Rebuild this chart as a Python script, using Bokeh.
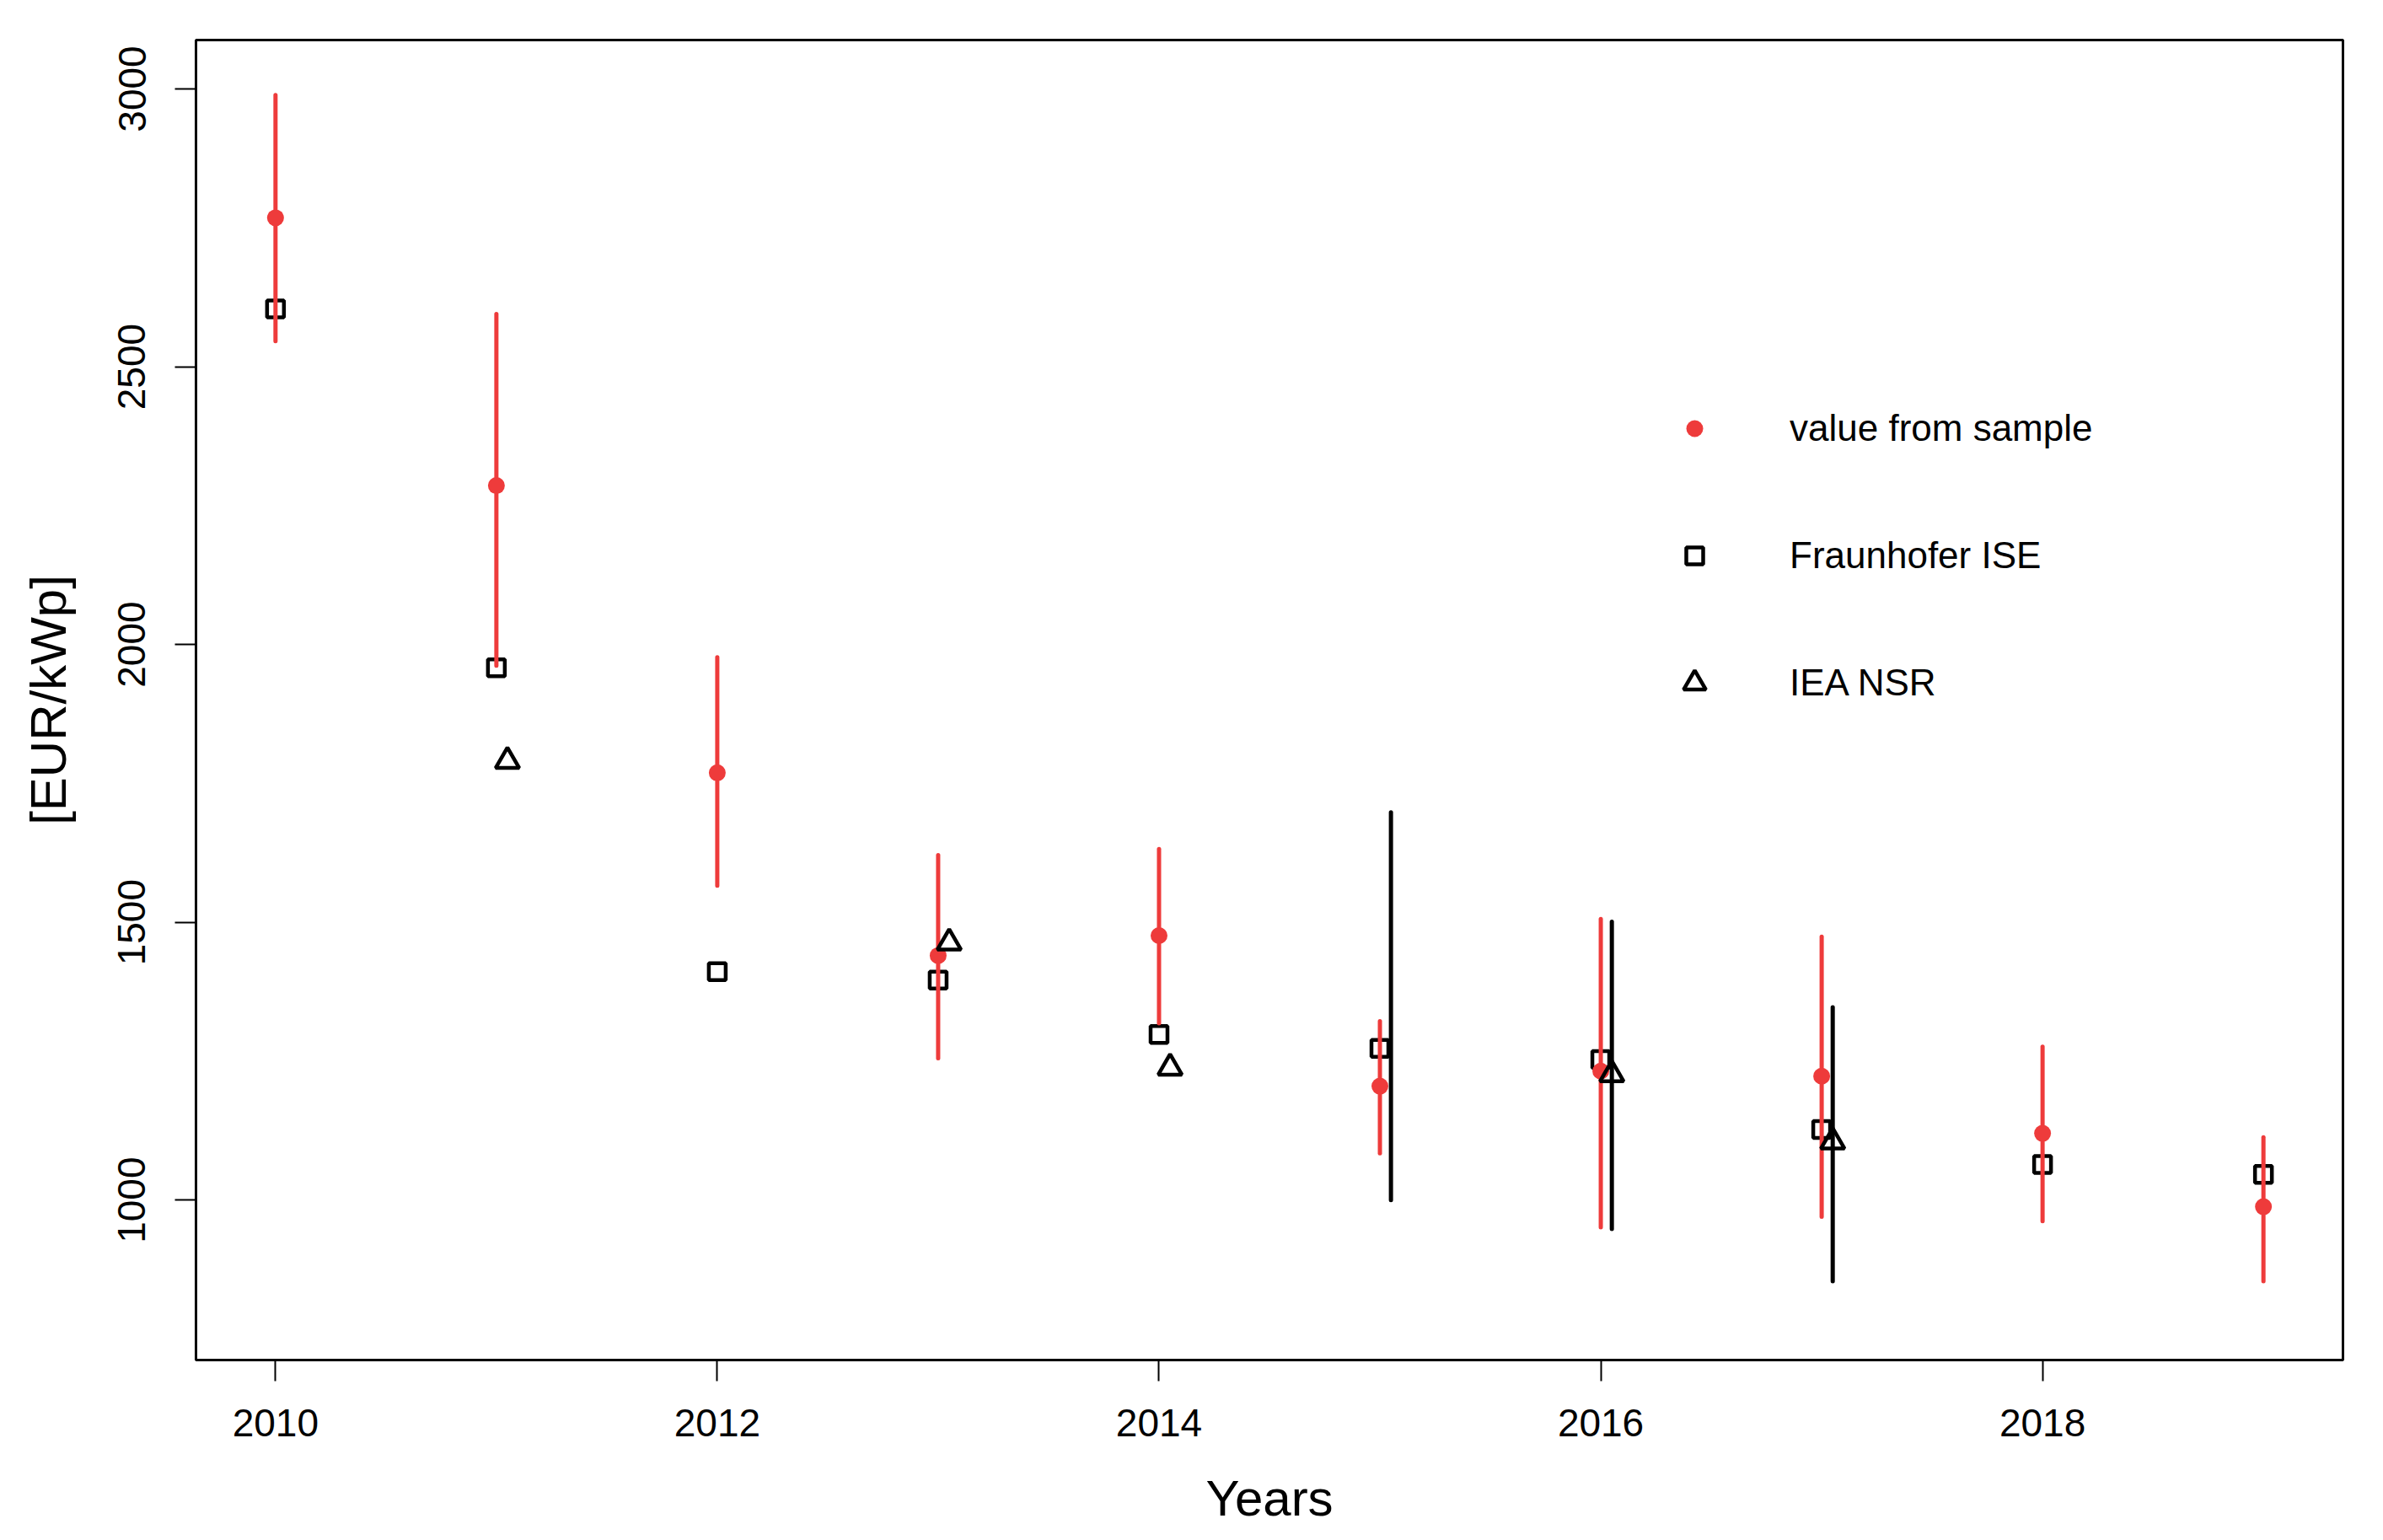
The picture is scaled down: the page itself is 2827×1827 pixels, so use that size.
from bokeh.plotting import figure
from bokeh.models import Range1d, FixedTicker, Legend, LegendItem, ColumnDataSource
from bokeh.embed import file_html
from bokeh.resources import INLINE

# ---- data ----
years = [2010, 2011, 2012, 2013, 2014, 2015, 2016, 2017, 2018, 2019]
sample_value = [2768, 2286, 1769, 1440, 1476, 1205, 1232, 1223, 1120, 988]
sample_low = [2546, 1962, 1566, 1255, 1318, 1084, 951, 970, 962, 854]
sample_high = [2989, 2595, 1977, 1621, 1632, 1322, 1506, 1474, 1276, 1113]
fraunhofer = [2604, 1958, 1411, 1396, 1298, 1273, 1253, 1127, 1064, 1046]
iea_years = [2011, 2013, 2014, 2016, 2017]
iea_values = [1790, 1463, 1238, 1226, 1105]
iea_err_years = [2015, 2016, 2017]
iea_low = [1000, 948, 854]
iea_high = [1698, 1501, 1347]
iea_offset = 0.05
x_ticks = [2010, 2012, 2014, 2016, 2018]
y_ticks = [1000, 1500, 2000, 2500, 3000]
legend_labels = ["value from sample", "Fraunhofer ISE", "IEA NSR"]

RED = "#EE3B3B"
FONT = "Liberation Sans"

p = figure(width=2818, height=1818, output_backend="svg", toolbar_location=None,
           x_range=Range1d(2009.64, 2019.36), y_range=Range1d(712, 3088),
           min_border_left=232, min_border_right=39, min_border_top=47, min_border_bottom=205)

p.grid.visible = False
p.outline_line_color = "black"
p.outline_line_width = 3
p.background_fill_color = "white"
p.border_fill_color = "white"

p.xaxis.ticker = FixedTicker(ticks=x_ticks)
p.yaxis.ticker = FixedTicker(ticks=y_ticks)
for ax in (p.xaxis[0], p.yaxis[0]):
    ax.axis_line_color = None
    ax.major_tick_in = 0
    ax.major_tick_out = 25
    ax.major_tick_line_width = 2
    ax.minor_tick_line_color = None
    ax.major_label_text_font = FONT
    ax.major_label_text_font_size = "46px"
    ax.major_label_text_color = "black"
    ax.axis_label_text_font = FONT
    ax.axis_label_text_font_size = "60px"
    ax.axis_label_text_font_style = "normal"
    ax.axis_label_text_color = "black"
p.yaxis.major_label_orientation = "vertical"
p.xaxis.axis_label = "Years"
p.yaxis.axis_label = "[EUR/kWp]"
p.xaxis.major_label_standoff = 33
p.xaxis.axis_label_standoff = 37
p.yaxis.major_label_standoff = 35
p.yaxis.axis_label_standoff = 47

src = ColumnDataSource(dict(x=years, v=sample_value, lo=sample_low, hi=sample_high, f=fraunhofer))
iea_x = [y + iea_offset for y in iea_years]
iea_src = ColumnDataSource(dict(x=iea_x, v=iea_values))
iea_err_src = ColumnDataSource(dict(x=[y + iea_offset for y in iea_err_years], lo=iea_low, hi=iea_high))

r_sq = p.scatter("x", "f", source=src, marker="square", size=20, fill_color=None,
                 line_color="black", line_width=4.5)
p.segment(x0="x", y0="lo", x1="x", y1="hi", source=src, line_color=RED, line_width=5, line_cap="round")
r_dot = p.scatter("x", "v", source=src, marker="circle", size=20, fill_color=RED, line_color=RED, line_width=0)
r_tri = p.scatter("x", "v", source=iea_src, marker="triangle", size=28, fill_color=None,
                  line_color="black", line_width=4.5)
p.segment(x0="x", y0="lo", x1="x", y1="hi", source=iea_err_src, line_color="black", line_width=5, line_cap="round")

# key: one single-entry legend per series so each symbol gets its own size
key_specs = [
    (legend_labels[0], r_dot, 50, (1753, 1080), 88),
    (legend_labels[1], r_sq, 50, (1753, 929), 88),
    (legend_labels[2], r_tri, 66, (1745, 770), 80),
]
for label, rend, box, loc, standoff in key_specs:
    lg = Legend(items=[LegendItem(label=label, renderers=[rend])],
                location=loc, orientation="vertical",
                glyph_width=box, glyph_height=box, label_height=box, spacing=0,
                label_standoff=standoff, padding=0, margin=0,
                border_line_color=None, background_fill_alpha=0,
                label_text_font=FONT, label_text_font_size="44px", label_text_color="black")
    p.add_layout(lg, "center")

open("out.html", "w").write(file_html(p, INLINE))
